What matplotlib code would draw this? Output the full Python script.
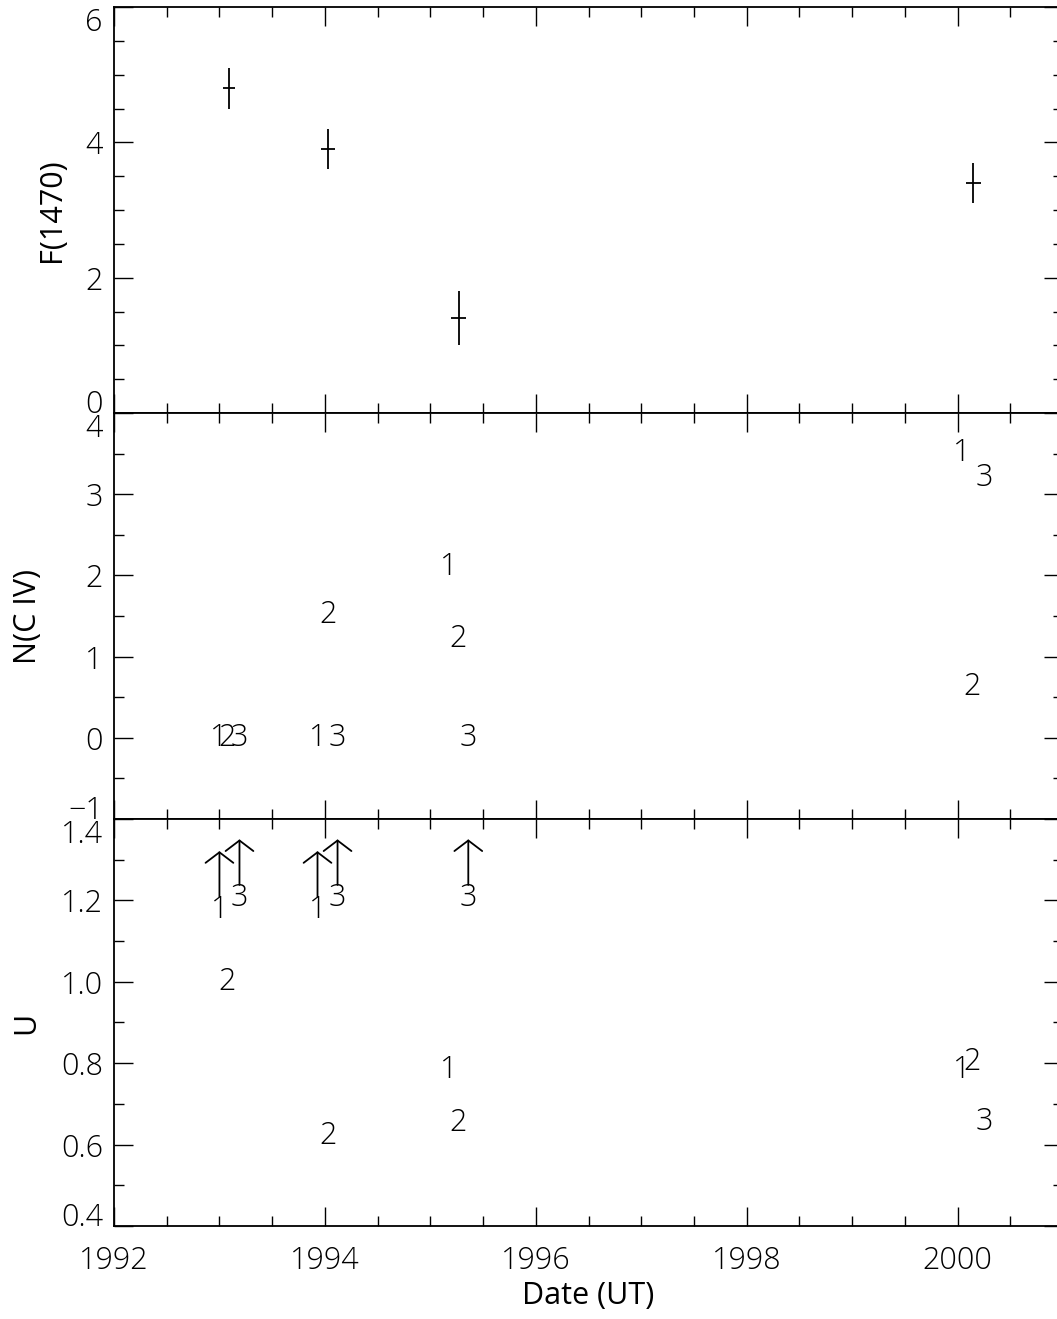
import matplotlib
matplotlib.use("Agg")
import matplotlib.pyplot as plt
from matplotlib.ticker import MultipleLocator, FuncFormatter

plt.rcParams['font.family'] = ['Open Sans', 'DejaVu Sans']
plt.rcParams['font.weight'] = 'light'
plt.rcParams['font.size'] = 22

# top panel: F(1470) with error bars
f_date = [1993.09, 1994.03, 1995.27, 2000.15]
f_val = [4.80, 3.90, 1.40, 3.40]
f_err = [0.30, 0.30, 0.40, 0.30]
f_dx = [0.06, 0.07, 0.07, 0.07]

# middle panel: N(C IV) for components 1, 2, 3
n_date1 = [1992.99, 1993.93, 1995.17, 2000.04]
n_val1 = [0.0, 0.0, 2.10, 3.51]
n_date2 = [1993.07, 1994.03, 1995.26, 2000.14]
n_val2 = [0.0, 1.51, 1.22, 0.62]
n_date3 = [1993.19, 1994.12, 1995.36, 2000.25]
n_val3 = [0.0, 0.0, 0.0, 3.20]

# bottom panel: U for components 1, 2, 3 (lower limits flagged)
u_date1 = [1993.00, 1993.93, 1995.17, 2000.04]
u_val1 = [1.176, 1.176, 0.784, 0.784]
u_lim1 = [True, True, False, False]
u_date2 = [1993.07, 1994.03, 1995.26, 2000.14]
u_val2 = [1.0, 0.622, 0.654, 0.804]
u_lim2 = [False, False, False, False]
u_date3 = [1993.19, 1994.12, 1995.36, 2000.25]
u_val3 = [1.205, 1.205, 1.205, 0.656]
u_lim3 = [True, True, True, False]

W, H = 1057, 1319
fig = plt.figure(figsize=(W / 100, H / 100), dpi=100)
left = 114 / W
width = (1063 - 114) / W
edges = [7, 413, 819, 1226]   # panel boundaries in pixels from top
axes = []
for top, bot in zip(edges[:-1], edges[1:]):
    axes.append(fig.add_axes([left, 1 - bot / H, width, (bot - top) / H]))
ax1, ax2, ax3 = axes


def style(ax, ylim, major, minor, fmt):
    ax.set_xlim(1992, 2001)
    ax.set_ylim(*ylim)
    ax.xaxis.set_major_locator(MultipleLocator(2))
    ax.xaxis.set_minor_locator(MultipleLocator(0.5))
    ax.yaxis.set_major_locator(MultipleLocator(major))
    ax.yaxis.set_minor_locator(MultipleLocator(minor))
    ax.yaxis.set_major_formatter(FuncFormatter(lambda v, p: (fmt % v).replace('-', '\u2212')))
    ax.tick_params(which='both', direction='in', top=True, right=True, width=1.0, color='black')
    ax.tick_params(which='major', length=13.5)
    ax.tick_params(which='minor', length=7)
    ax.tick_params(axis='y', pad=8, labelsize=22)
    ax.tick_params(axis='x', pad=14, labelsize=22)
    for s in ax.spines.values():
        s.set_linewidth(1.3)


style(ax1, (0, 6), 2, 0.5, '%d')
style(ax2, (-1, 4), 1, 0.5, '%d')
style(ax3, (0.4, 1.4), 0.2, 0.1, '%.1f')
ax1.tick_params(axis='x', labelbottom=False)
ax2.tick_params(axis='x', labelbottom=False)

ax1.errorbar(f_date, f_val, yerr=f_err, xerr=f_dx, fmt='none', ecolor='black',
             elinewidth=1.3, capsize=0)


def put_labels(ax, dates, vals, txt):
    for d, v in zip(dates, vals):
        ax.text(d, v, txt, ha='center', va='center', fontsize=22, fontweight='light')


put_labels(ax2, n_date1, n_val1, '1')
put_labels(ax2, n_date2, n_val2, '2')
put_labels(ax2, n_date3, n_val3, '3')

for dates, vals, lims, txt in [(u_date1, u_val1, u_lim1, '1'),
                               (u_date2, u_val2, u_lim2, '2'),
                               (u_date3, u_val3, u_lim3, '3')]:
    put_labels(ax3, dates, vals, txt)
    for d, v, lim in zip(dates, vals, lims):
        if lim:
            ax3.annotate('', xy=(d, v + 0.145), xytext=(d, v + 0.033),
                         arrowprops=dict(arrowstyle='->,head_length=0.38,head_width=0.5',
                                         mutation_scale=20, lw=1.3, color='black',
                                         shrinkA=0, shrinkB=0))

ax1.set_ylabel('F(1470)', va='center')
ax1.yaxis.set_label_coords(-0.0653, 0.5)
ax2.set_ylabel('N(C IV)', va='center')
ax2.yaxis.set_label_coords(-0.0906, 0.5)
ax3.set_ylabel('U', va='center')
ax3.yaxis.set_label_coords(-0.0927, 0.5)
ax3.set_xlabel('Date (UT)', va='center')
ax3.xaxis.set_label_coords(0.5, -0.172)

# nudge the end labels of each y axis inward, so stacked panels don't collide
fig.canvas.draw()
for ax in axes:
    lo, hi = ax.get_ylim()
    for tick in ax.yaxis.get_major_ticks():
        loc = tick.get_loc()
        if abs(loc - hi) < 1e-6:
            tick.label1.set_va('top')
        elif abs(loc - lo) < 1e-6:
            tick.label1.set_va('baseline')

plt.savefig('out.png', dpi=100)
plt.close()
